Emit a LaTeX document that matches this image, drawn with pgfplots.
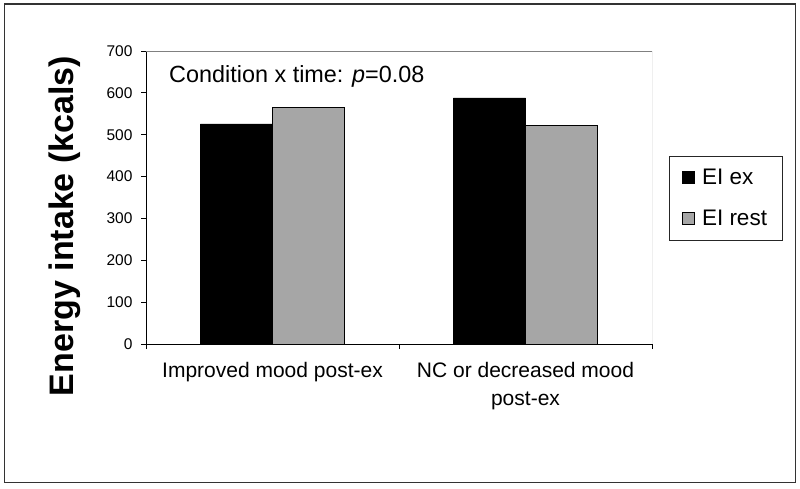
\documentclass[border=0pt]{standalone}
\usepackage{pgfplots}
\pgfplotsset{compat=1.18}
\usepackage{fontspec}
\setmainfont{Liberation Sans}
\definecolor{barGray}{RGB}{166,166,166}
\begin{document}
\begin{tikzpicture}[x=1pt,y=1pt]
\useasboundingbox (0,0) rectangle (800,488);
\fill[white] (0,0) rectangle (800,488);
\draw[line width=1.6pt, black!80] (4.5,5.5) rectangle (795.5,484);
\begin{axis}[
  at={(146pt,144pt)}, anchor=south west, scale only axis,
  width=506pt, height=293pt,
  xmin=0.5, xmax=2.5, ymin=0, ymax=700,
  axis lines*=left,
  axis line style={black, line width=0.8pt},
  tick align=outside,
  major tick length=5pt,
  tick style={black, line width=0.8pt},
  ytick={0,100,...,700},
  xtick={0.5,1.5,2.5},
  xticklabels={},
  extra x ticks={1,2},
  extra x tick labels={Improved mood post-ex, {NC or decreased mood\\post-ex}},
  extra x tick style={major tick length=0pt, tick label style={align=center, font=\fontsize{21}{28}\selectfont, yshift=-15pt}},
  yticklabel style={font=\fontsize{15.5}{15.5}\selectfont, xshift=-5pt},
  /pgf/number format/assume math mode=true,
  legend image code/.code={\draw[#1] (4pt,-5.5pt) rectangle (16pt,6.5pt);},
  legend style={at={(rel axis cs:1.0336,0.6416)}, anchor=north west, draw=black!85, line width=0.8pt,
    font=\fontsize{22.5}{24}\selectfont, inner xsep=13pt, inner ysep=11pt, row sep=20pt,
    /tikz/every odd column/.append style={column sep=5pt}},
  legend cell align=left,
]
\addplot[ybar, bar width=0.285, bar shift=-0.1425, fill=black, draw=black, line width=0.6pt] coordinates {(1,526) (2,588)};
\addplot[ybar, bar width=0.285, bar shift=0.1425, fill=barGray, draw=black, line width=0.6pt] coordinates {(1,565) (2,522)};
\legend{EI ex, EI rest}
\draw[gray, line width=0.8pt] (rel axis cs:0,1) -- (rel axis cs:1,1) -- (rel axis cs:1,0);
\node[anchor=base west, inner sep=0pt, font=\fontsize{23.4}{24}\selectfont] at (axis cs:0.591,624) {Condition x time: \textit{p}=0.08};
\end{axis}
\node[rotate=90, anchor=base, inner sep=0pt, font=\bfseries\fontsize{34}{34}\selectfont] at (73,262) {Energy intake (kcals)};
\end{tikzpicture}
\end{document}
